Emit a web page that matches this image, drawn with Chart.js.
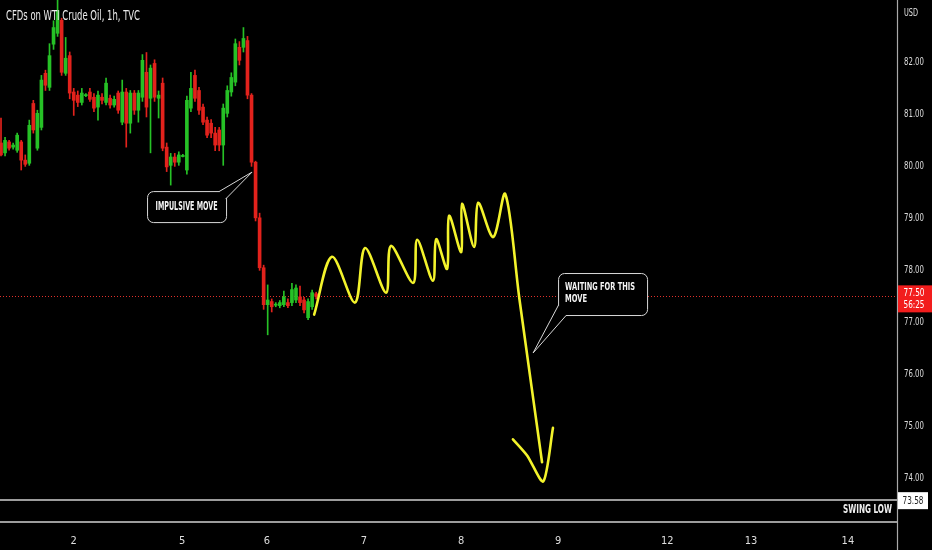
<!DOCTYPE html>
<html><head><meta charset="utf-8">
<script src="https://cdn.jsdelivr.net/npm/chart.js@4.4.1/dist/chart.umd.min.js"></script>
<style>html,body{margin:0;padding:0;background:#000;overflow:hidden}#wrap{position:relative;width:932px;height:550px}</style>
</head><body><div id="wrap"><canvas id="c" width="932" height="550"></canvas></div>
<script>
// ---- data ----
const dayLabels = ['2','5','6','7','8','9','12','13','14'];
const dayBars   = [18.0, 44.8, 65.8, 89.8, 113.9, 137.9, 164.9, 185.6, 209.6];
const yTickValues = [74,75,76,77,78,79,80,81,82];

const opens = [80.45,80.26,80.47,80.37,80.31,80.47,80.12,80.06,81.21,80.35,
 80.75,81.79,81.52,82.35,82.56,82.81,81.79,82.13,81.43,81.37,
 81.23,81.36,81.43,81.33,81.14,81.33,81.23,81.31,81.18,81.41,
 80.85,81.43,80.83,81.41,81.08,81.33,81.81,81.31,81.98,81.31,
 81.60,80.37,80.02,80.18,80.08,80.19,79.93,81.12,81.75,81.46,
 81.14,80.89,80.83,80.64,80.70,80.41,81.02,81.43,81.62,82.29,
 82.29,82.42,81.37,80.08,79.01,78.05,77.34,77.40,77.33,77.32,
 77.34,77.38,77.38,77.43,77.49,77.43,77.09,77.30,77.55];
const highs = [80.93,80.56,80.50,80.45,80.64,80.50,80.22,80.89,81.27,81.08,
 81.75,81.85,82.36,82.80,83.25,82.85,82.48,82.20,81.50,81.45,
 81.50,81.40,81.50,81.40,81.45,81.40,81.70,81.37,81.35,81.45,
 81.66,81.50,81.46,81.46,81.46,82.15,82.19,81.95,82.05,81.45,
 81.70,80.45,80.25,80.25,80.28,80.23,81.35,81.81,81.85,81.52,
 81.20,80.95,80.90,80.75,80.75,81.20,81.55,81.80,82.45,82.40,
 82.67,82.50,81.40,80.10,79.10,78.10,77.72,77.45,77.38,77.42,
 77.60,77.45,77.75,77.72,77.70,77.48,77.45,77.62,77.58];
const lows = [80.20,80.20,80.31,80.33,80.27,79.93,80.00,80.02,80.64,80.31,
 80.70,81.46,81.46,82.25,82.50,81.75,81.75,81.30,80.98,81.15,
 81.18,81.34,81.25,81.05,80.89,81.20,81.18,81.12,81.14,81.02,
 80.80,80.37,80.64,81.00,80.85,81.25,80.95,80.26,81.25,80.93,
 80.30,79.90,79.64,80.00,80.02,80.18,79.85,81.05,81.25,81.00,
 80.80,80.55,80.55,80.30,80.30,80.02,80.95,81.35,81.55,81.95,
 82.20,81.30,80.00,78.95,78.00,77.25,76.76,77.20,77.30,77.28,
 77.30,77.28,77.32,77.38,77.32,77.18,77.05,77.25,77.45];
const closes = [80.22,80.50,80.35,80.41,80.60,80.12,80.04,80.79,80.70,81.02,
 81.66,81.56,82.13,82.67,83.00,81.81,82.08,81.41,81.27,81.23,
 81.41,81.38,81.29,81.12,81.37,81.27,81.60,81.18,81.29,81.08,
 81.43,80.83,81.41,81.08,81.41,82.04,81.14,81.89,81.33,81.37,
 80.35,79.99,80.18,80.08,80.22,80.21,81.27,81.50,81.31,81.08,
 80.85,80.60,80.64,80.41,80.41,81.12,81.46,81.71,82.36,82.04,
 82.46,81.37,80.08,79.01,78.05,77.34,77.43,77.30,77.35,77.38,
 77.49,77.32,77.63,77.66,77.38,77.24,77.40,77.57,77.50];

// hand-drawn projection (bar index, price)
const pathBars   = [77.5,81.9,87.6,90.1,95.3,96.5,102.0,103.0,106.9,107.7,110.4,110.9,113.9,114.1,117.1,118.1,121.8,124.8,128.3,133.9];
const pathPrices = [77.15,78.26,77.38,78.43,77.57,78.47,77.76,78.59,77.80,78.60,78.03,79.05,78.35,79.28,78.45,79.30,78.64,79.47,77.45,74.31];
const arrowBars   = [126.7,130.2,134.2,136.6];
const arrowPrices = [74.75,74.44,73.94,74.97];

const lastPrice = 77.50;
const countdown = '56:25';
const swingLow = 73.58;
const titleText = 'CFDs on WTI Crude Oil, 1h, TVC';
const currencyText = 'USD';
const swingLabel = 'SWING LOW';
const note1 = ['IMPULSIVE MOVE'];
const note1Tip = [62.13, 79.89];
const note2 = ['WAITING FOR THIS', 'MOVE'];
const note2Tip = [131.68, 76.41];

// ---- build ----
const UP = '#26c126', DN = '#e2221c';
const candleColors = opens.map((o,i)=> closes[i] >= o ? UP : DN);
const wickData = lows.map((l,i)=>({x:i, y:[l, highs[i]]}));
const bodyData = opens.map((o,i)=>({x:i, y:[o, closes[i]]}));
const pathData = pathBars.map((b,i)=>({x:b, y:pathPrices[i]}));
const arrowData = arrowBars.map((b,i)=>({x:b, y:arrowPrices[i]}));

const NARROW = "'Liberation Sans Narrow','DejaVu Sans Condensed','Roboto Condensed',sans-serif";

function fitText(ctx, text, x, y, font, w, align, color){
  ctx.save(); ctx.font = font; ctx.fillStyle = color; ctx.textBaseline = 'middle'; ctx.textAlign = 'left';
  const m = ctx.measureText(text).width; const s = Math.min(1.15, w / m);
  const ww = m * s;
  const x0 = align === 'left' ? x : align === 'right' ? x - ww : x - ww / 2;
  ctx.translate(x0, y); ctx.scale(s, 1); ctx.fillText(text, 0, 0); ctx.restore();
}
function roundRect(ctx, x, y, w, h, r){
  ctx.beginPath(); ctx.moveTo(x+r,y); ctx.lineTo(x+w-r,y); ctx.arcTo(x+w,y,x+w,y+r,r);
  ctx.lineTo(x+w,y+h-r); ctx.arcTo(x+w,y+h,x+w-r,y+h,r); ctx.lineTo(x+r,y+h); ctx.arcTo(x,y+h,x,y+h-r,r);
  ctx.lineTo(x,y+r); ctx.arcTo(x,y,x+r,y,r); ctx.closePath();
}
function callout(ctx, box, b1, tip, b2){
  ctx.save();
  roundRect(ctx, box[0]+0.5, box[1]+0.5, box[2], box[3], 6);
  ctx.fillStyle = '#000'; ctx.fill(); ctx.strokeStyle = '#d8d8d8'; ctx.lineWidth = 1; ctx.stroke();
  ctx.beginPath(); ctx.moveTo(b1[0], b1[1]); ctx.lineTo(tip[0], tip[1]); ctx.lineTo(b2[0], b2[1]); ctx.closePath();
  ctx.fillStyle = '#000'; ctx.fill();
  ctx.beginPath(); ctx.moveTo(b1[0], b1[1]); ctx.lineTo(tip[0], tip[1]); ctx.lineTo(b2[0], b2[1]); ctx.stroke();
  ctx.restore();
}

const overlay = {
  id: 'overlay',
  beforeDraw(chart){ const c = chart.ctx; c.save(); c.fillStyle = '#000'; c.fillRect(0,0,chart.width,chart.height); c.restore(); },
  beforeDatasetsDraw(chart){
    const {ctx, chartArea:a, scales:{y}} = chart;
    ctx.save();
    const yp = Math.round(y.getPixelForValue(lastPrice)) + 0.5;
    ctx.strokeStyle = '#e0302a'; ctx.lineWidth = 1; ctx.setLineDash([1,2]);
    ctx.beginPath(); ctx.moveTo(a.left, yp); ctx.lineTo(a.right, yp); ctx.stroke();
    ctx.setLineDash([]);
    const ys = Math.round(y.getPixelForValue(swingLow));
    ctx.strokeStyle = '#d0d0d0'; ctx.lineWidth = 1.6;
    ctx.beginPath(); ctx.moveTo(a.left, ys); ctx.lineTo(a.right, ys); ctx.stroke();
    ctx.beginPath(); ctx.moveTo(a.left, a.bottom); ctx.lineTo(a.right, a.bottom); ctx.stroke();
    ctx.restore();
  },
  afterDraw(chart){
    const {ctx, chartArea:a, scales:{x,y}} = chart;
    ctx.save();
    // price axis line
    ctx.strokeStyle = '#a9a9a9'; ctx.lineWidth = 1.2;
    ctx.beginPath(); ctx.moveTo(a.right + 0.5, 0); ctx.lineTo(a.right + 0.5, chart.height); ctx.stroke();
    // price axis tick labels (from the library's y scale ticks)
    y.ticks.forEach(t => {
      fitText(ctx, Number(t.value).toFixed(2), a.right + 7, y.getPixelForValue(t.value), '11px ' + NARROW, 20, 'left', '#dcdcdc');
    });
    // title
    fitText(ctx, titleText, 6, 16.5, '14px ' + NARROW, 134, 'left', '#ececec');
    fitText(ctx, currencyText, a.right + 7, 13, '10px ' + NARROW, 14, 'left', '#e0e0e0');
    // swing low text
    const ys = y.getPixelForValue(swingLow);
    fitText(ctx, swingLabel, a.right - 5, ys + 10, 'bold 12px ' + NARROW, 49, 'right', '#f0f0f0');
    // swing low price box
    ctx.fillStyle = '#ffffff'; ctx.fillRect(a.right + 1, ys - 8, 30, 17);
    fitText(ctx, swingLow.toFixed(2), a.right + 16, ys + 0.5, '11px ' + NARROW, 21, 'center', '#222');
    // last price box
    const yp = y.getPixelForValue(lastPrice);
    ctx.fillStyle = '#f21d1d'; ctx.fillRect(a.right + 1, yp - 11, 34, 27);
    fitText(ctx, lastPrice.toFixed(2), a.right + 17, yp - 3, '11px ' + NARROW, 21, 'center', '#ffffff');
    fitText(ctx, countdown, a.right + 17, yp + 9, '11px ' + NARROW, 21, 'center', '#ffffff');
    // callouts
    const t1 = [x.getPixelForValue(note1Tip[0]), y.getPixelForValue(note1Tip[1])];
    const bx1 = [t1[0] - 105, t1[1] + 19, 79, 31];
    callout(ctx, bx1, [t1[0]-33, t1[1]+19.5], t1, [t1[0]-26.5, t1[1]+27]);
    fitText(ctx, note1[0], bx1[0] + bx1[2]/2, bx1[1] + 16, 'bold 12px ' + NARROW, 62, 'center', '#f4f4f4');
    const t2 = [x.getPixelForValue(note2Tip[0]), y.getPixelForValue(note2Tip[1])];
    const bx2 = [t2[0] + 25, t2[1] - 80, 89, 42];
    callout(ctx, bx2, [t2[0]+25.5, t2[1]-48], t2, [t2[0]+33, t2[1]-37.5]);
    fitText(ctx, note2[0], bx2[0] + 7, bx2[1] + 14, 'bold 11px ' + NARROW, 70, 'left', '#f4f4f4');
    fitText(ctx, note2[1], bx2[0] + 7, bx2[1] + 26, 'bold 11px ' + NARROW, 22, 'left', '#f4f4f4');
    ctx.restore();
  }
};

new Chart(document.getElementById('c'), {
  type: 'bar',
  data: {
    datasets: [
      { type:'line', data: pathData, borderColor:'#f3f32b', borderWidth:2.6, tension:0.32, pointRadius:0, fill:false, borderCapStyle:'round', borderJoinStyle:'round' },
      { type:'line', data: arrowData, borderColor:'#f3f32b', borderWidth:2.6, tension:0.25, pointRadius:0, fill:false, borderCapStyle:'round', borderJoinStyle:'round' },
      { type:'bar', data: bodyData, backgroundColor: ctx => candleColors[ctx.dataIndex], barThickness:3, grouped:false, borderWidth:0 },
      { type:'bar', data: wickData, backgroundColor: ctx => candleColors[ctx.dataIndex], barThickness:1, grouped:false, borderWidth:0 }
    ]
  },
  options: {
    responsive:false, animation:false, devicePixelRatio:1,
    layout:{ padding:0, autoPadding:false },
    plugins:{ legend:{display:false}, tooltip:{enabled:false} },
    scales:{
      x:{ type:'linear', min:-0.25, max:221.75, offset:false,
        grid:{display:false}, border:{display:false},
        afterBuildTicks: s => { s.ticks = dayBars.map(v => ({value:v})); },
        afterFit: s => { s.height = 28; s.paddingLeft = 0; s.paddingRight = 0; s.paddingTop = 0; s.paddingBottom = 0; },
        ticks:{ autoSkip:false, maxRotation:0, padding:5, color:'#dedede', font:{family:NARROW, size:11},
          callback: (v, i) => dayLabels[i] } },
      y:{ type:'linear', position:'right', min:73.16, max:83.20,
        grid:{display:false}, border:{display:false},
        afterBuildTicks: s => { s.ticks = yTickValues.map(v => ({value:v})); },
        afterFit: s => { s.width = 35; s.paddingTop = 0; s.paddingBottom = 0; s.paddingLeft = 0; s.paddingRight = 0; },
        ticks:{ display:false } }
    }
  },
  plugins:[overlay]
});
</script>
</body></html>
